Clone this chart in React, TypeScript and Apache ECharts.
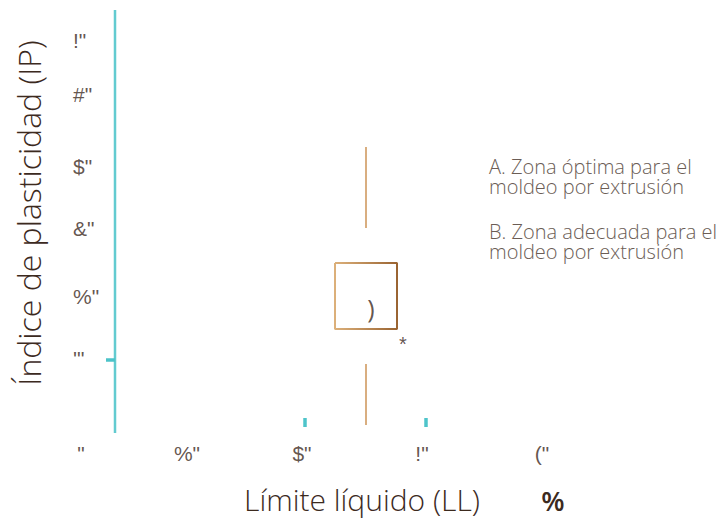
import React, { useEffect, useRef } from "react";
import * as echarts from "echarts";

// Chart frame units (hidden axes): x 0..100, y 0..90
const xTickLabels = ['"', '%"', '$"', '!"', '("'];
const xTickPositions = [3.2, 24.4, 47.4, 71.4, 95.4];
const xTickLabelLevel = 1.4;

const yTickLabels = ['!"', '#"', '$"', '&"', '%"', '\'"'];
const yTickPositions = [84, 73.2, 58.8, 46.4, 32.8, 20.4];
const yTickLabelLevel = 1.6;

const axisLineX = 10;
const axisLineYRange = [5.4, 90];
const axisTickY = 20;
const axisTickXRange = [8.2, 10];

const tealMarksX = [48, 72.2];
const tealMarksYRange = [6.6, 8.4];

const upperWhiskerX = 60.2;
const upperWhiskerYRange = [46.4, 62.6];
const lowerWhiskerYRange = [7, 19.2];
const boxXRange = [54, 66.4];
const boxYRange = [26.2, 39.4];

const boxGlyph = { label: ")", x: 61.2, y: 30.4 };
const starGlyph = { label: "*", x: 67.6, y: 23.2 };

const legendItems = [
  "A. Zona óptima para el\nmoldeo por extrusión",
  "B. Zona adecuada para el\nmoldeo por extrusión",
];

const TEAL = "#62cbd0";
const TEXT = "#3c2a1e";

export default function App() {
  const ref = useRef<HTMLDivElement>(null);
  useEffect(() => {
    document.body.style.margin = "0";
    const chart = echarts.init(ref.current!, null, { renderer: "svg" });
    const boxGrad = new echarts.graphic.LinearGradient(0, 0, 1, 0, [
      { offset: 0, color: "#dcb07a" },
      { offset: 1, color: "#9a6432" },
    ]);
    const lineSeries = (data: number[][], color: any, width: number) => ({
      type: "line",
      data,
      symbol: "none",
      silent: true,
      clip: false,
      lineStyle: { color, width },
    });
    const labelSeries = (
      pts: { name: string; value: number[] }[],
      align: string,
      font: any
    ) => ({
      type: "scatter",
      symbolSize: 0,
      silent: true,
      clip: false,
      data: pts,
      label: {
        show: true,
        position: "inside",
        formatter: (p: any) => p.name,
        align,
        verticalAlign: "middle",
        ...font,
      },
    });
    const tickFont = { fontFamily: "Liberation Sans", fontSize: 21, color: TEXT };

    chart.setOption({
      animation: false,
      grid: { left: 65, top: 10, width: 500, height: 450 },
      xAxis: { type: "value", min: 0, max: 100, show: false },
      yAxis: { type: "value", min: 0, max: 90, show: false },
      series: [
        lineSeries(
          [
            [axisLineX, axisLineYRange[0]],
            [axisLineX, axisLineYRange[1]],
          ],
          TEAL,
          2.5
        ),
        lineSeries(
          [
            [axisTickXRange[0], axisTickY],
            [axisTickXRange[1], axisTickY],
          ],
          "#4cc3c9",
          3.5
        ),
        ...tealMarksX.map((x) =>
          lineSeries(
            [
              [x, tealMarksYRange[0]],
              [x, tealMarksYRange[1]],
            ],
            "#4ec4ca",
            3.5
          )
        ),
        lineSeries(
          [
            [upperWhiskerX, upperWhiskerYRange[0]],
            [upperWhiskerX, upperWhiskerYRange[1]],
          ],
          "#d9ae80",
          2
        ),
        lineSeries(
          [
            [upperWhiskerX, lowerWhiskerYRange[0]],
            [upperWhiskerX, lowerWhiskerYRange[1]],
          ],
          "#d9ae80",
          2
        ),
        lineSeries(
          [
            [boxXRange[0], boxYRange[1]],
            [boxXRange[1], boxYRange[1]],
            [boxXRange[1], boxYRange[0]],
            [boxXRange[0], boxYRange[0]],
            [boxXRange[0], boxYRange[1]],
          ],
          boxGrad,
          2
        ),
        labelSeries(
          xTickLabels.map((n, i) => ({ name: n, value: [xTickPositions[i], xTickLabelLevel] })),
          "center",
          tickFont
        ),
        labelSeries(
          yTickLabels.map((n, i) => ({ name: n, value: [yTickLabelLevel, yTickPositions[i]] })),
          "left",
          tickFont
        ),
        labelSeries(
          [{ name: boxGlyph.label, value: [boxGlyph.x, boxGlyph.y] }],
          "center",
          { fontFamily: "Open Sans", fontSize: 25, color: TEXT }
        ),
        labelSeries(
          [{ name: starGlyph.label, value: [starGlyph.x, starGlyph.y] }],
          "center",
          { fontFamily: "Liberation Sans", fontSize: 20, color: TEXT }
        ),
      ],
      graphic: [
        {
          type: "text",
          x: 28,
          y: 213,
          rotation: Math.PI / 2,
          style: {
            text: "Índice de plasticidad (IP)",
            fontFamily: "Open Sans",
            fontSize: 32,
            fontWeight: 300,
            fill: TEXT,
            align: "center",
            verticalAlign: "middle",
          },
        },
        {
          type: "text",
          x: 362,
          y: 499,
          style: {
            text: "Límite líquido (LL)",
            fontFamily: "Open Sans",
            fontSize: 30,
            fontWeight: 300,
            fill: TEXT,
            align: "center",
            verticalAlign: "middle",
          },
        },
        {
          type: "text",
          x: 553,
          y: 500,
          style: {
            text: "%",
            fontFamily: "Open Sans",
            fontSize: 27,
            fontWeight: 600,
            fill: TEXT,
            align: "center",
            verticalAlign: "middle",
          },
        },
        ...legendItems.map((t, i) => ({
          type: "text",
          x: 489,
          y: [156, 221][i],
          style: {
            text: t,
            fontFamily: "Open Sans",
            fontSize: 20,
            fontWeight: 300,
            lineHeight: 20,
            fill: "#6b5d55",
            align: "left",
            verticalAlign: "top",
          },
        })),
      ],
    });
    return () => chart.dispose();
  }, []);
  return <div ref={ref} style={{ width: 728, height: 520 }} />;
}
